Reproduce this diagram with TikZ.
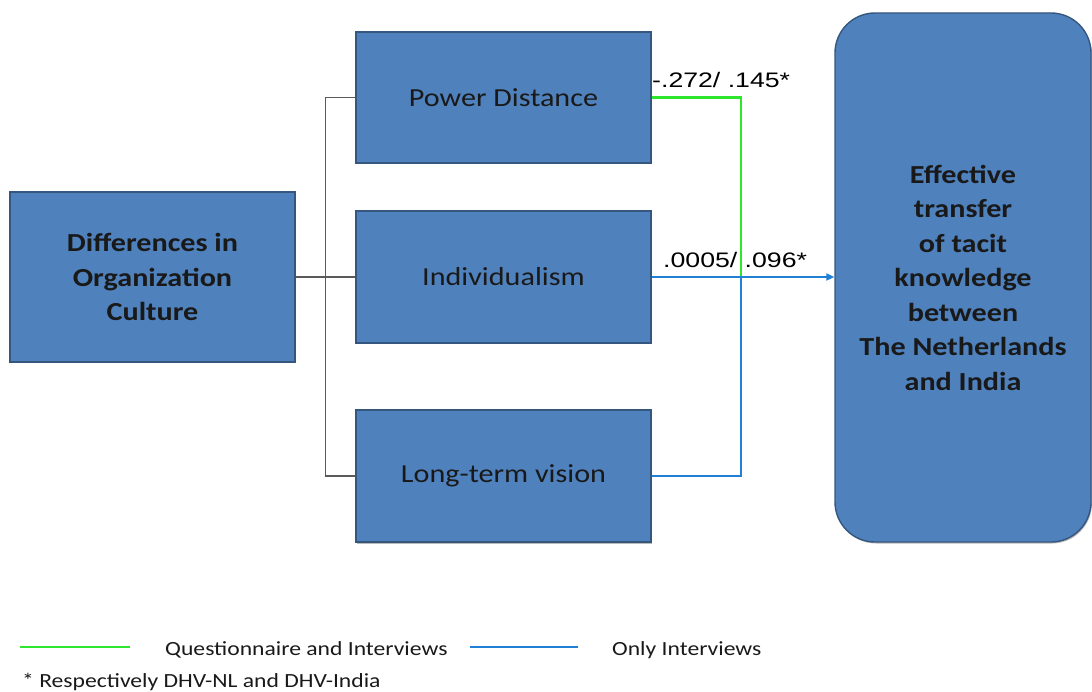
\documentclass[tikz,border=0pt]{standalone}
\usepackage{fontspec}
\setmainfont{Carlito}
\newfontfamily\boxfont[FakeStretch=1.16]{Carlito}
\newfontfamily\legendfont[FakeStretch=1.175]{Carlito}
\newfontfamily\numfont[FakeStretch=1.27]{Liberation Sans}
\usetikzlibrary{arrows.meta,shadows}

\definecolor{boxblue}{HTML}{4F81BD}
\definecolor{boxedge}{HTML}{35577F}
\definecolor{linkgreen}{HTML}{2EE62E}
\definecolor{linkblue}{HTML}{1F80D6}
\definecolor{treegray}{HTML}{5A5A5A}

\tikzset{
  block/.style={draw=boxedge, line width=1.4pt, fill=boxblue,
    drop shadow={shadow xshift=1pt, shadow yshift=-1.5pt, fill=black!60, opacity=0.45},
    inner sep=0pt, align=center, text=black!90,
    font=\boxfont\fontsize{26}{34.5}\selectfont},
  headline/.style={block, font=\boxfont\bfseries\fontsize{26}{34.5}\selectfont},
  tree/.style={draw=treegray, line width=1.6pt},
  qlink/.style={draw=linkgreen, line width=2.5pt},
  ilink/.style={draw=linkblue, line width=2.5pt},
  coef/.style={inner sep=0pt, anchor=base west, font=\numfont\fontsize{21}{24}\selectfont},
  legend/.style={inner sep=0pt, anchor=base west, text=black!90, font=\legendfont\fontsize{20.1}{24}\selectfont}
}

\begin{document}
\begin{tikzpicture}[x=1pt, y=-1pt]
  \useasboundingbox (0,0) rectangle (1092,692);

  % cause, dimensions and outcome
  \node[headline, minimum width=285pt, minimum height=170pt] (culture) at (152.5,277)
    {Differences in\\Organization\\Culture};
  \node[block, minimum width=295pt, minimum height=131pt] (pd)  at (503.5,97.5) {Power Distance};
  \node[block, minimum width=295pt, minimum height=132pt] (ind) at (503.5,277) {Individualism};
  \node[block, minimum width=295pt, minimum height=132pt] (lt)  at (503.5,476) {Long-term vision};
  \node[headline, rounded corners=40pt, minimum width=256pt, minimum height=529pt] (out) at (963,277.5)
    {Effective\\transfer\\of tacit\\knowledge\\between\\The Netherlands\\and India};

  % bracket joining the three dimensions
  \draw[tree] (culture.east) -- (ind.west);
  \draw[tree] (pd.west) -- ++(-30,0) |- (lt.west);

  % links to the outcome
  \coordinate (join) at (741,277);
  \draw[qlink] (pd.east) -| (join);
  \draw[ilink] (lt.east) -| (join);
  \draw[ilink, -{Triangle[length=8pt, width=7pt]}] (ind.east) -- (ind.east -| out.west);

  \node[coef] (c1) at (652,88)  {-.272/ .145*};
  \node[coef] (c2) at (663,268) {.0005/ .096*};

  % legend
  \coordinate (g1) at (20,647);  \coordinate (g2) at (130,647);
  \coordinate (b1) at (470,647); \coordinate (b2) at (578,647);
  \draw[qlink] (g1) -- (g2);
  \draw[ilink] (b1) -- (b2);
  \node[legend] (lq) at (165,655) {Questionnaire and Interviews};
  \node[legend] (li) at (612,655) {Only Interviews};
  \node[legend] (ln) at (22,687)  {* Respectively DHV-NL and DHV-India};
\end{tikzpicture}
\end{document}
